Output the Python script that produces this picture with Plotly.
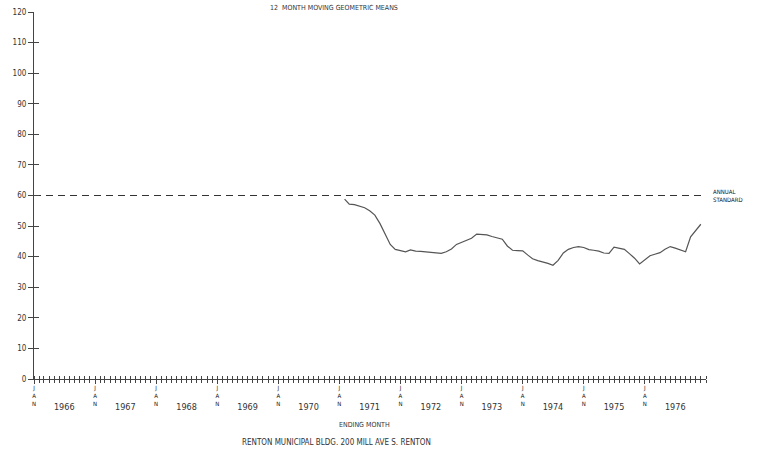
import plotly.graph_objects as go
import pandas as pd

# ---- data ----
title_text = "12  MONTH MOVING GEOMETRIC MEANS"
site_text = "RENTON MUNICIPAL BLDG. 200 MILL AVE S. RENTON"
x_title = "ENDING MONTH"
standard_label = "ANNUAL<br>STANDARD"
annual_standard = 60
years = list(range(1966, 1977))
y_ticks = [0, 10, 20, 30, 40, 50, 60, 70, 80, 90, 100, 110, 120]

start_month = "1971-02-01"
means = [58.8, 57.2, 57.0, 56.5, 56.0, 55.0, 53.6, 50.8, 47.5, 44.0, 42.4,
         41.9, 41.6, 42.2, 41.8, 41.7, 41.5, 41.3, 41.2, 41.1, 41.6, 42.5,
         44.0, 44.6, 45.2, 46.0, 47.4, 47.3, 47.1, 46.6, 46.2, 45.7, 43.5,
         42.1, 42.0, 41.9, 40.5, 39.3, 38.7, 38.3, 37.8, 37.2, 38.8, 41.2,
         42.4, 43.0, 43.3, 43.0, 42.3, 42.1, 41.8, 41.2, 41.1, 43.1, 42.8,
         42.4, 41.0, 39.5, 37.6, 38.9, 40.3, 40.8, 41.3, 42.4, 43.3, 42.8,
         42.2, 41.6, 46.5, 48.5, 50.6]

months = pd.date_range(start_month, periods=len(means), freq="MS")
x_start = f"{years[0]}-01-01"
x_end = f"{years[-1] + 1}-01-01"

FONT = "DejaVu Sans Condensed, DejaVu Sans"
AX = "#444444"
TXT = "#333333"

fig = go.Figure()

fig.add_trace(go.Scatter(
    x=[x_start, x_end], y=[annual_standard, annual_standard],
    mode="lines", line=dict(color="#333333", width=1.2, dash="7px,5px"),
    hoverinfo="skip", showlegend=False))

fig.add_trace(go.Scatter(
    x=months, y=means, mode="lines",
    line=dict(color="#555555", width=1.2), showlegend=False))

# invisible trace on overlay axes
fig.add_trace(go.Scatter(x=[x_start], y=[0], xaxis="x2", yaxis="y2",
                         mode="markers", marker=dict(opacity=0),
                         showlegend=False, hoverinfo="skip"))

jan_vals = [f"{y}-01-01" for y in years]
mid_vals = [f"{y}-07-01" for y in years]

fig.update_layout(
    width=767, height=455,
    margin=dict(l=34, r=61, t=12, b=76),
    paper_bgcolor="white", plot_bgcolor="white",
    font=dict(family=FONT, color=TXT, size=8),
    xaxis=dict(range=[x_start, x_end], showgrid=False, zeroline=False,
               automargin=False,
               showline=True, linecolor=AX, linewidth=1.2,
               tickvals=jan_vals, ticktext=["J<br>A<br>N"] * len(years),
               ticks="outside", ticklen=4, tickcolor=AX, tickwidth=1,
               tickfont=dict(size=6, family=FONT, color="#111111"),
               ticklabelstandoff=-1,
               minor=dict(dtick="M1", ticks="outside", ticklen=3,
                          tickcolor=AX, tickwidth=1, showgrid=False)),
    xaxis2=dict(range=[x_start, x_end], overlaying="x", anchor="y",
                side="bottom", showgrid=False, zeroline=False,
                automargin=False,
                showline=False, tickvals=mid_vals,
                ticktext=[str(y) for y in years],
                ticks="", ticklabelstandoff=21,
                tickfont=dict(size=9, family=FONT, color=TXT),
                minor=dict(dtick="M1", ticks="inside", ticklen=3,
                           tickcolor=AX, tickwidth=1, showgrid=False)),
    yaxis=dict(range=[0, 120], showgrid=False, zeroline=False,
               automargin=False,
               showline=True, linecolor=AX, linewidth=1.2,
               tickvals=y_ticks, ticks="outside", ticklen=5,
               tickcolor=AX, tickwidth=1,
               tickfont=dict(size=8, family=FONT, color=TXT)),
    yaxis2=dict(range=[0, 120], overlaying="y", anchor="x", side="left",
                automargin=False,
                showgrid=False, zeroline=False, showline=False,
                tickvals=y_ticks, ticks="inside", ticklen=5,
                tickcolor=AX, tickwidth=1, showticklabels=False),
)

# title, label texts
fig.add_annotation(text=title_text, xref="paper", yref="paper",
                   x=(334 - 34) / 672, y=1.0, yshift=4, xanchor="center",
                   yanchor="middle", showarrow=False,
                   font=dict(size=7, color=TXT, family=FONT))
fig.add_annotation(text=x_title, xref="paper", yref="paper",
                   x=(364 - 34) / 672, y=0, yshift=-46, xanchor="center",
                   yanchor="middle", showarrow=False,
                   font=dict(size=7, color=TXT, family=FONT))
fig.add_annotation(text=site_text, xref="paper", yref="paper",
                   x=(336 - 34) / 672, y=0, yshift=-63, xanchor="center",
                   yanchor="middle", showarrow=False,
                   font=dict(size=8, color=TXT, family=FONT))
fig.add_annotation(text=standard_label, xref="paper", yref="y",
                   x=1.0, y=annual_standard, xshift=5, xanchor="left",
                   yanchor="middle", showarrow=False, align="left",
                   font=dict(size=6, color="#111111", family=FONT))

fig.write_html("out.html",
               config={"displayModeBar": False},
               post_script="document.body.style.margin='0';")
